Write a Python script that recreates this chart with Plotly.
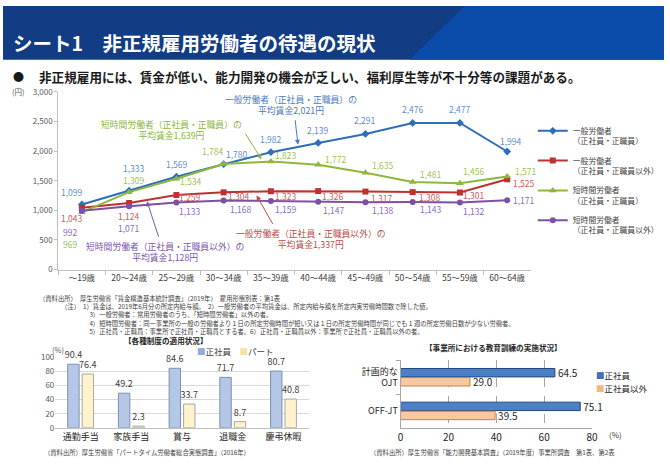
import plotly.graph_objects as go

W, H = 670, 464
FONT = "Noto Sans CJK JP"

def px(x):
    return x / W

def py(y):
    return 1 - y / H

# ---------------- data ----------------
ages = ["～19歳", "20～24歳", "25～29歳", "30～34歳", "35～39歳",
        "40～44歳", "45～49歳", "50～54歳", "55～59歳", "60～64歳"]
wage_general_regular = [1099, 1333, 1569, 1780, 1982, 2139, 2291, 2476, 2477, 1994]
wage_general_nonregular = [1043, 1124, 1259, 1304, 1323, 1326, 1317, 1308, 1301, 1525]
wage_short_regular = [969, 1309, 1534, 1784, 1823, 1772, 1635, 1481, 1456, 1571]
wage_short_nonregular = [992, 1071, 1133, 1168, 1159, 1147, 1138, 1143, 1132, 1171]

series_names = ["一般労働者<br>（正社員・正職員）", "一般労働者<br>（正社員・正職員以外）",
                "短時間労働者<br>（正社員・正職員）", "短時間労働者<br>（正社員・正職員以外）"]

systems = ["通勤手当", "家族手当", "賞与", "退職金", "慶弔休暇"]
sys_regular = [90.4, 49.2, 84.6, 71.7, 80.7]
sys_part = [76.4, 2.3, 33.7, 8.7, 40.8]

training = ["計画的な<br>OJT", "OFF-JT"]
train_regular = [64.5, 75.1]
train_nonregular = [29.0, 39.5]

# ---------------- styles ----------------
line_colors = ["#2E6DB8", "#C0302F", "#8CB83C", "#7D4FA8"]
label_colors = ["#5B8ED0", "#D05A5A", "#9CC257", "#8C6CBC"]
symbols = ["diamond", "square", "triangle-up", "circle"]
msizes = [6, 6, 7, 6]

# label offsets (pixels: dx right, dy down)
offsets = [
    [(-10, -13), (5, -23), (1, -13), (13, -10), (0, -13), (0, -13), (0, -14), (0, -14), (0, -14), (4, -10)],
    [(-10, 10), (0, 13), (14, 2), (15, 4), (15, 5), (15, 5), (17, 6), (17, 5), (14, 2), (17, 4)],
    [(-12, 32), (5, -12), (15, 2), (-11, -13), (15, -7), (18, -6), (18, -8), (18, -8), (14, -12), (19, -6)],
    [(-12, 21), (0, 22), (14, 9), (17, 9), (15, 8), (16, 8), (18, 8), (18, 7), (14, 8), (17, 0)],
]

fig = go.Figure()

all_series = [wage_general_regular, wage_general_nonregular, wage_short_regular, wage_short_nonregular]
for k, vals in enumerate(all_series):
    fig.add_trace(go.Scatter(
        x=ages, y=vals, mode="lines+markers", name=series_names[k],
        legendgroup=f"g{k}",
        line=dict(color=line_colors[k], width=2),
        marker=dict(symbol=symbols[k], size=msizes[k], color=line_colors[k]),
        xaxis="x", yaxis="y", cliponaxis=False,
    ))

annotations = []
for k, vals in enumerate(all_series):
    for i, v in enumerate(vals):
        dx, dy = offsets[k][i]
        annotations.append(dict(
            x=ages[i], y=v, xref="x", yref="y", text=f"{v:,}", showarrow=False,
            xshift=dx, yshift=-dy, font=dict(size=8.5, color=label_colors[k], family=FONT),
        ))

# bottom-left bars
fig.add_trace(go.Bar(
    x=systems, y=sys_regular, name="正社員", xaxis="x2", yaxis="y2",
    marker=dict(color="#B4C7E7", line=dict(color="#7F8FAF", width=1)),
    width=0.225, offset=-0.255, text=[f"{v:.1f}" for v in sys_regular],
    textposition="outside", cliponaxis=False, constraintext="none",
    textfont=dict(size=9, color="#404040", family=FONT), showlegend=False,
))
fig.add_trace(go.Bar(
    x=systems, y=sys_part, name="パート", xaxis="x2", yaxis="y2",
    marker=dict(color="#FFF2CC", line=dict(color="#A6A6A6", width=1)),
    width=0.225, offset=0.03, text=[f"{v:.1f}" for v in sys_part],
    textposition="outside", cliponaxis=False, constraintext="none",
    textfont=dict(size=9, color="#404040", family=FONT), showlegend=False,
))

# bottom-right bars
fig.add_trace(go.Bar(
    y=training, x=train_regular, name="正社員", orientation="h", xaxis="x3", yaxis="y3",
    marker=dict(color="#4B7FC6", line=dict(color="#23467E", width=1)),
    width=0.25, offset=-0.26, text=[f"{v:.1f}" for v in train_regular],
    textposition="outside", cliponaxis=False, constraintext="none",
    textfont=dict(size=10, color="#262626", family=FONT), showlegend=False,
))
fig.add_trace(go.Bar(
    y=training, x=train_nonregular, name="正社員以外", orientation="h", xaxis="x3", yaxis="y3",
    marker=dict(color="#F8C99C", line=dict(color="#B98550", width=1)),
    width=0.25, offset=0.01, text=[f"{v:.1f}" for v in train_nonregular],
    textposition="outside", cliponaxis=False, constraintext="none",
    textfont=dict(size=10, color="#262626", family=FONT), showlegend=False,
))

# ---------------- text annotations ----------------
def text(x, y, t, size=9, color="#404040", anchor="left", bold=False):
    if bold:
        t = f"<b>{t}</b>"
    annotations.append(dict(x=px(x), y=py(y), xref="paper", yref="paper", text=t,
                            showarrow=False, xanchor=anchor, yanchor="middle",
                            align="left" if anchor == "left" else "center",
                            font=dict(size=size, color=color, family=FONT)))

def text_top(x, y, t, size=9, color="#404040"):
    annotations.append(dict(x=px(x), y=py(y), xref="paper", yref="paper", text=t,
                            showarrow=False, xanchor="left", yanchor="top", align="left",
                            font=dict(size=size, color=color, family=FONT)))

def arrow(tail, tip, color):
    annotations.append(dict(x=px(tip[0]), y=py(tip[1]), xref="paper", yref="paper", text="",
                            showarrow=True, ax=tail[0] - tip[0], ay=tail[1] - tip[1],
                            axref="pixel", ayref="pixel",
                            arrowhead=2, arrowsize=1, arrowwidth=1, arrowcolor=color))

# header
text(8, 37, "シート1　非正規雇用労働者の待遇の現状", size=19.5, color="white", bold=True)
text(8, 72, "●", size=11, color="#1a1a1a")
text(34, 72, "非正規雇用には、賃金が低い、能力開発の機会が乏しい、福利厚生等が不十分等の課題がある。",
     size=12.6, color="#1a1a1a", bold=True)
text(7, 88, "(円)", size=7.5, color="#595959")

# callouts
text(292, 101, "一般労働者（正社員・正職員）の<br>平均賃金2,021円", size=8.8, color="#4A7CC0", anchor="center")
text(171, 127, "短時間労働者（正社員・正職員）の<br>平均賃金1,639円", size=8.8, color="#8AB540", anchor="center")
text(312, 239, "一般労働者（正社員・正職員以外）の<br>平均賃金1,337円", size=8.8, color="#C04A4A", anchor="center")
text(164, 252, "短時間労働者（正社員・正職員以外）の<br>平均賃金1,128円", size=8.8, color="#7E57A8", anchor="center")
arrow((296, 116), (299, 142), "#4A7CC0")
arrow((245, 130), (262, 157), "#8AB540")
arrow((274, 224), (257, 194), "#C04A4A")
arrow((158, 237), (146, 200), "#7E57A8")

# notes (one multi-line block)
ns = 6.3
nc = "#404040"
sp = "\u3000"
notes = "<br>".join([
    "（資料出所）　厚生労働省「賃金構造基本統計調査」（2019年）　雇用形態別表：第1表",
    sp * 4 + "（注）" + sp + "1）賃金は、2019年6月分の所定内給与額。　2）一般労働者の平均賃金は、所定内給与額を所定内実労働時間数で除した値。",
    sp * 8 + "3）一般労働者：常用労働者のうち、「短時間労働者」以外の者。",
    sp * 8 + "4）短時間労働者：同一事業所の一般の労働者より１日の所定労働時間が短い又は１日の所定労働時間が同じでも１週の所定労働日数が少ない労働者。",
    sp * 8 + "5）正社員・正職員：事業所で正社員・正職員とする者。6）正社員・正職員以外：事業所で正社員・正職員以外の者。",
])
text_top(34, 293, notes, size=ns, color=nc)

# bottom-left
text(165, 343, "【各種制度の適用状況】", size=7.6, color="#262626", anchor="center", bold=True)
text(48, 352, "(%)", size=7.5, color="#595959")
text(195, 353, "<span style='color:#8FAADC'>■</span>正社員　<span style='color:#F2E3A6'>■</span>パート", size=8.5, color="#404040")
text(40, 457, "（資料出所）厚生労働省「パートタイム労働者総合実態調査」（2016年）", size=ns, color=nc)

# bottom-right
text(497, 350, "【事業所における教育訓練の実施状況】", size=7.6, color="#262626", anchor="center", bold=True)
text(599, 378, "<span style='color:#3F6FB5'>■</span>正社員", size=8.5, color="#262626")
text(599, 391, "<span style='color:#F2B880'>■</span>正社員以外", size=8.5, color="#262626")
text(612, 439, "(%)", size=8, color="#404040")
text(370, 457, "（資料出所）厚生労働省「能力開発基本調査」（2019年度）事業所調査　第1表、第2表", size=ns, color=nc)

shapes = [
    dict(type="rect", xref="paper", yref="paper", x0=0, x1=1, y0=py(55), y1=1,
         fillcolor="#123C84", line=dict(width=0), layer="below"),
    dict(type="path", xref="paper", yref="paper",
         path=f"M {px(468)},{py(0)} L {px(670)},{py(0)} L {px(670)},{py(55)} L {px(412)},{py(55)} Z",
         fillcolor="#0B4BAA", line=dict(width=0), layer="below"),
]

axis_font = dict(size=8, color="#595959", family=FONT)
fig.update_layout(
    width=W, height=H, margin=dict(l=0, r=0, t=0, b=0),
    paper_bgcolor="white", plot_bgcolor="rgba(0,0,0,0)",
    font=dict(family=FONT),
    showlegend=True,
    legend=dict(x=px(537), y=py(116), xanchor="left", yanchor="top",
                font=dict(size=7.8, color="#404040", family=FONT),
                bgcolor="rgba(0,0,0,0)", tracegroupgap=6.5, valign="top"),
    xaxis=dict(domain=[px(56), px(535)], range=[-0.5, 9.5], showline=True, linecolor="#BFBFBF",
               ticks="outside", ticklen=4, tickcolor="#BFBFBF", tickson="boundaries",
               showgrid=False, tickfont=dict(size=8.5, color="#404040", family=FONT), anchor="y",
               fixedrange=True),
    yaxis=dict(domain=[py(270), py(88)], range=[0, 3000], dtick=500, tickformat=",d",
               showline=True, linecolor="#BFBFBF", ticks="outside", ticklen=3, tickcolor="#BFBFBF",
               showgrid=False, zeroline=False, tickfont=axis_font, anchor="x"),
    xaxis2=dict(domain=[px(53), px(310)], range=[-0.5, 4.5], showline=True, linecolor="#BFBFBF",
                showgrid=False, ticks="", tickfont=dict(size=9, color="#262626", family=FONT),
                anchor="y2"),
    yaxis2=dict(domain=[py(432), py(360)], range=[0, 100], dtick=20, showgrid=True,
                gridcolor="#D9D9D9", gridwidth=1, zeroline=False, showline=False,
                tickfont=axis_font, anchor="x2"),
    xaxis3=dict(domain=[px(403), px(597)], range=[0, 80], dtick=20, showgrid=True,
                gridcolor="#A6A6A6", griddash="dash", gridwidth=1, zeroline=False,
                showline=True, linecolor="#A6A6A6", ticks="",
                tickfont=dict(size=10, color="#262626", family=FONT), anchor="y3"),
    yaxis3=dict(domain=[py(432), py(363)], autorange="reversed", showline=True, linecolor="#A6A6A6",
                ticks="outside", ticklen=4, tickcolor="#A6A6A6", tickson="boundaries",
                showgrid=False, tickfont=dict(size=9, color="#262626", family=FONT), anchor="x3"),
    annotations=annotations,
    shapes=shapes,
)

fig.write_html("out.html", config={"displayModeBar": False},
               post_script="document.body.style.margin='0px';")
